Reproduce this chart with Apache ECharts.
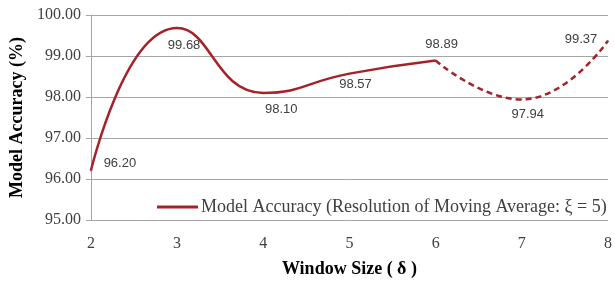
<!DOCTYPE html>
<html><head><meta charset="utf-8">
<script src="https://cdn.jsdelivr.net/npm/echarts@6/dist/echarts.min.js"></script>
<style>html,body{margin:0;padding:0;background:#fff}#c{width:615px;height:283px}</style>
</head><body><div id="c"></div>
<script>
const windowSizes = [2, 3, 4, 5, 6, 7, 8];
const accuracy = [96.20, 99.68, 98.10, 98.57, 98.89, 97.94, 99.37];
const yTicks = [95, 96, 97, 98, 99, 100];
const seriesName = 'Model Accuracy (Resolution of Moving Average: ξ = 5)';
const labelOff = [[29, -7], [7, 17], [18, 17], [6, 11], [6, -16], [6, 15], [-27, -1]];

const mk = (i, show) => ({
  value: [windowSizes[i], accuracy[i]],
  label: { show: show, position: 'inside', offset: labelOff[i] }
});
const solidData = [0, 1, 2, 3, 4].map(i => mk(i, true));
const dashData = [4, 5, 6].map(i => mk(i, i !== 4));

const red = '#A52228';
const lbl = { color: '#404040', fontFamily: 'Liberation Sans', fontSize: 13, formatter: p => p.value[1].toFixed(2) };
const chart = echarts.init(document.getElementById('c'));
chart.setOption({
  animation: false,
  grid: { left: 90, right: 5, top: 15, bottom: 62 },
  legend: {
    data: [{ name: seriesName, icon: 'rect' }],
    left: 152, top: 193, itemWidth: 41, itemHeight: 3, itemGap: 4,
    textStyle: { fontFamily: 'Liberation Serif', fontSize: 18, color: '#404040', padding: [0, 0, 0, -2] }
  },
  xAxis: {
    type: 'value', min: 2, max: 8, interval: 1,
    name: 'Window Size ( δ )', nameLocation: 'middle', nameGap: 40,
    nameTextStyle: { fontFamily: 'Liberation Serif', fontSize: 18, fontWeight: 'bold', color: '#000' },
    axisLine: { show: false }, axisTick: { show: false }, splitLine: { show: false },
    axisLabel: { fontFamily: 'Liberation Serif', fontSize: 16, color: '#404040', margin: 16 }
  },
  yAxis: {
    type: 'value', min: yTicks[0], max: yTicks[yTicks.length - 1], interval: 1,
    name: 'Model Accuracy (%)', nameLocation: 'middle', nameGap: 64, nameRotate: 90,
    nameTextStyle: { fontFamily: 'Liberation Serif', fontSize: 18, fontWeight: 'bold', color: '#000' },
    axisLine: { show: true, lineStyle: { color: '#A6A6A6' } },
    axisTick: { show: true, length: 5, lineStyle: { color: '#A6A6A6' } },
    splitLine: { lineStyle: { color: '#A6A6A6' } },
    axisLabel: { fontFamily: 'Liberation Serif', fontSize: 16, color: '#404040', margin: 10, formatter: v => v.toFixed(2) }
  },
  series: [
    { name: seriesName, type: 'line', smooth: 0.5, symbol: 'circle', symbolSize: 1, showSymbol: true,
      lineStyle: { color: red, width: 2.5 }, itemStyle: { color: red }, label: lbl, data: solidData, z: 3 },
    { name: 'dashed', type: 'line', smooth: 0.5, symbol: 'circle', symbolSize: 1, showSymbol: true,
      lineStyle: { color: red, width: 2.5, type: [6, 4] }, itemStyle: { color: red }, label: lbl, data: dashData, z: 3 }
  ]
});
</script></body></html>
